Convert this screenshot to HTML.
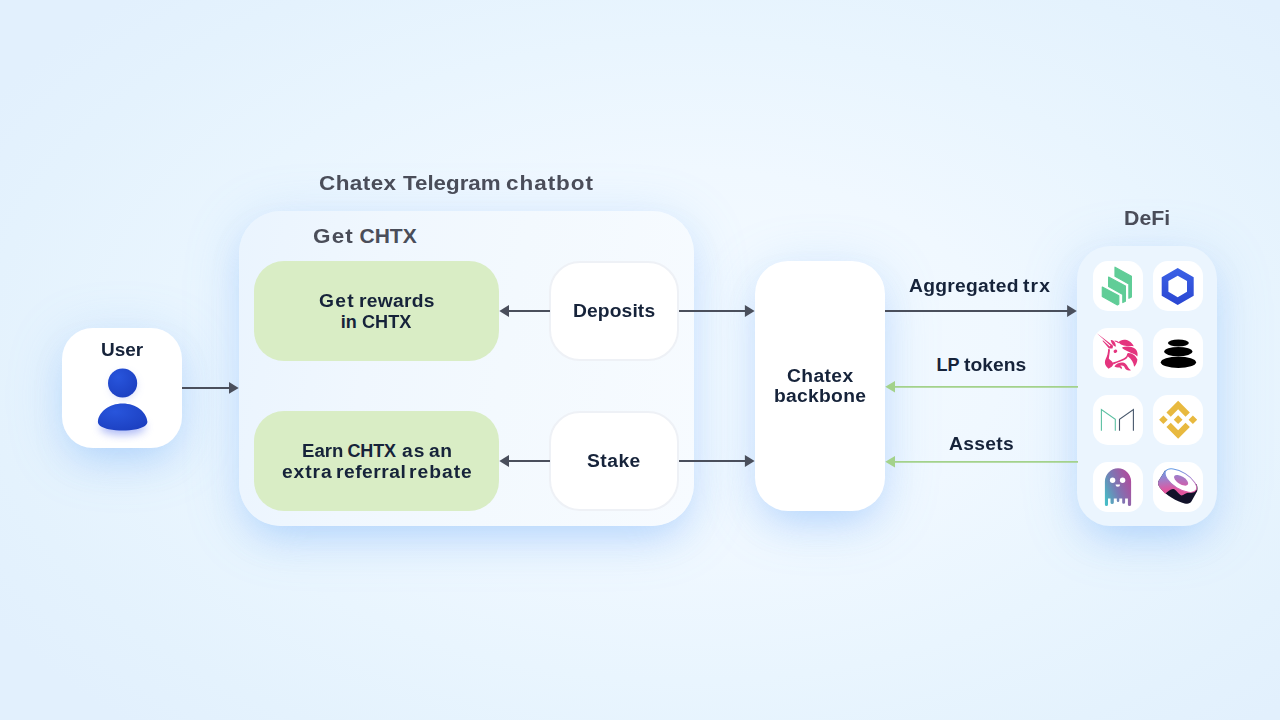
<!DOCTYPE html>
<html><head><meta charset="utf-8"><title>Chatex</title>
<style>
html,body{margin:0;padding:0;}
body{width:1280px;height:720px;overflow:hidden;position:relative;font-family:"Liberation Sans",sans-serif;font-weight:bold;
background:radial-gradient(ellipse 820px 500px at 690px 360px,#f5fbff 0%,#f0f8ff 38%,#e9f5fe 64%,#e4f2fd 86%,#e2f0fd 100%);}
.abs{position:absolute;}
.t{position:absolute;white-space:nowrap;transform-origin:0 0;color:#16233a;font-size:18px;line-height:18px;}
.h{color:#4a4d59;font-size:21px;line-height:21px;}
.card{position:absolute;background:#fff;box-sizing:border-box;}
.sh{box-shadow:0 18px 36px -12px rgba(112,174,250,.34),0 9px 54px rgba(112,174,250,.26);}
</style></head><body>
<!-- user -->
<div class="card sh" style="left:62px;top:328px;width:120px;height:120px;border-radius:31px;"></div>
<svg class="abs" style="left:82px;top:358px" width="80" height="90" viewBox="0 0 80 90">
 <defs><radialGradient id="ug" cx="0.35" cy="0.3" r="0.9"><stop offset="0" stop-color="#2855dc"/><stop offset="1" stop-color="#1a3cbc"/></radialGradient>
 <filter id="ub" x="-50%" y="-50%" width="200%" height="200%"><feGaussianBlur stdDeviation="4"/></filter></defs>
 <ellipse cx="40.7" cy="69" rx="23" ry="8" fill="#7b8ff0" opacity=".6" filter="url(#ub)"/>
 <circle cx="41.5" cy="28" r="12.5" fill="#8a9cf0" opacity=".4" filter="url(#ub)"/>
 <circle cx="40.6" cy="25" r="14.6" fill="url(#ug)"/>
 <path d="M15.9 63.8 C16.6 54 27 45.6 40.6 45.6 C54.4 45.6 64.6 54 65.4 63.8 C65.6 67.6 60 70.2 54.5 71.2 C50 72.1 45 72.5 40.6 72.5 C36.2 72.5 31.2 72.1 26.7 71.2 C21.2 70.2 15.6 67.6 15.9 63.8Z" fill="url(#ug)"/>
</svg>


<!-- container -->
<div class="card sh" style="left:239px;top:211px;width:455px;height:314.5px;border-radius:42px;background:linear-gradient(100deg,#eaf4fe 0%,#f0f7fe 30%,#f3f9fe 57%,#f7fbff 100%);"></div>

<div class="card" style="left:254px;top:261px;width:245px;height:100px;border-radius:30px;background:#d9edc5;"></div>
<div class="card" style="left:254px;top:411px;width:245px;height:100px;border-radius:30px;background:#d9edc5;"></div>

<div class="card" style="left:549px;top:260.6px;width:129.8px;height:100px;border-radius:31px;border:2px solid #eef1f6;"></div>
<div class="card" style="left:549px;top:410.6px;width:129.8px;height:100px;border-radius:31px;border:2px solid #eef1f6;"></div>

<!-- backbone -->
<div class="card sh" style="left:755px;top:261px;width:130px;height:250px;border-radius:33px;"></div>

<!-- defi -->
<div class="card sh" style="left:1077px;top:246px;width:140px;height:280px;border-radius:33px;background:#ebf5fe;"></div>
<svg class="abs" style="left:1077px;top:246px" width="140" height="280" viewBox="1077 246 140 280">
 <defs>
  <linearGradient id="lk" x1="0" y1="0" x2="0" y2="1"><stop offset="0" stop-color="#3c62e6"/><stop offset="1" stop-color="#2a46d2"/></linearGradient>
  <linearGradient id="gh" x1="1" y1="0.25" x2="0" y2="0.8"><stop offset="0" stop-color="#b04a9c"/><stop offset="0.25" stop-color="#9a5ea6"/><stop offset="0.55" stop-color="#7a78b4"/><stop offset="0.8" stop-color="#5f9cbc"/><stop offset="1" stop-color="#48bcc6"/></linearGradient>
  <linearGradient id="su1" x1="0.3" y1="0" x2="0.5" y2="1"><stop offset="0" stop-color="#6a9ae6"/><stop offset="0.35" stop-color="#a57cc6"/><stop offset="0.75" stop-color="#e2559f"/><stop offset="1" stop-color="#e2559f"/></linearGradient>
  <linearGradient id="su2" x1="0" y1="0" x2="1" y2="1"><stop offset="0" stop-color="#8f86d2"/><stop offset="1" stop-color="#d85aa6"/></linearGradient>
  <linearGradient id="su3" x1="0" y1="0" x2="1" y2="0.6"><stop offset="0" stop-color="#4aa8ee"/><stop offset="0.5" stop-color="#9a7fd0"/><stop offset="1" stop-color="#e45aa6"/></linearGradient>
 </defs>
 <!-- tiles -->
 <g fill="#fff">
  <rect x="1093" y="261" width="50" height="50" rx="15"/><rect x="1153" y="261" width="50" height="50" rx="15"/>
  <rect x="1093" y="328" width="50" height="50" rx="15"/><rect x="1153" y="328" width="50" height="50" rx="15"/>
  <rect x="1093" y="395" width="50" height="50" rx="15"/><rect x="1153" y="395" width="50" height="50" rx="15"/>
  <rect x="1093" y="462" width="50" height="50" rx="15"/><rect x="1153" y="462" width="50" height="50" rx="15"/>
 </g>
 <!-- compound -->
 <g transform="translate(1093 261)" fill="#60cd97" stroke="#60cd97" stroke-width="1.2" stroke-linejoin="round">
  <path d="M22 6.2 L38.4 15.3 L38.4 36 L35.9 37.3 L35.9 23 L22 15.2Z"/>
  <path d="M15.6 16 L32.4 25 L32.4 40.2 L29.8 41.5 L29.8 33.4 L15.6 25.5Z"/>
  <path d="M9.3 26 L25.8 34.7 L25.8 43 L24.4 44 L9.3 35.4Z"/>
 </g>
 <!-- chainlink -->
 <g transform="translate(1153 261)">
  <path fill="url(#lk)" fill-rule="evenodd" d="M24.7 6.9 L40.7 16.2 V34.7 L24.7 44 L8.7 34.7 V16.2Z M24.7 14.7 L15.4 20.1 V30.8 L24.7 36.2 L34 30.8 V20.1Z"/>
 </g>
 <!-- uniswap -->
 <g transform="translate(1093 328)" fill="#e4347e">
  <path d="M3.8 5.2 L19.6 17.3 C20.2 18.2 20 19.4 19.4 20.4 L16 20.4 L9.4 12.8 L10.2 12.6 L16.8 18.4 L17.4 17.6Z"/>
  <path d="M17.7 12 C20.4 11.4 23 14.8 22.8 18.8 C20.4 18.2 18.2 15.6 17.7 12Z"/>
  <path d="M21.6 12.6 C23.4 12.6 25 13.4 26.2 14.6 L25.4 15.2 C24.4 14.2 23 13.6 21.8 13.4Z"/>
  <path d="M25.5 14.2 C28.4 10.6 36.6 10.4 40.8 18.2 C36 17.6 30 19.4 25.5 14.2Z"/>
  <path d="M29.2 19.2 C34.4 17.6 41.6 18.8 43.6 22.4 C44.8 25 44.8 26.8 44.3 28.4 C41.4 25.4 34.6 24.2 29.6 20.6Z"/>
  <path d="M34.7 25 C39 24.6 43.2 28.2 44.4 31.6 C44.2 35 42.8 37.2 41.1 38.8 C40.8 34.6 38.2 31 35 28.6 C34.4 27.6 34.4 26.2 34.7 25Z"/>
  <ellipse cx="22.4" cy="23.2" rx="1.9" ry="1.6" transform="rotate(-25 22.4 23.2)"/>
  <path d="M15.2 20.8 C15 24.6 14.4 28 12.8 30.8 C11.4 33.4 11.6 36.4 13.4 38.4 C14.2 39.4 15 40.2 15.6 40.8 C17.4 39.6 20.6 38.2 20.2 35.6 C19.6 33.4 17 32.4 15.8 30.6 C16.2 27.6 16.8 24.2 17 21.4Z"/>
  <path d="M19.8 34.6 C24 33 30.6 31.2 33.2 28.4 C33.8 27.6 34.2 26.6 34.2 25.8 L35.2 26 C35.4 28 34.6 29.8 33 31 C29.8 33.2 24 34.6 20.4 36.4Z"/>
  <path d="M21.4 38.4 C23.6 35 29.8 33.2 32.8 36 C34.8 38 35 40.6 38 42.2 C35.2 43.2 32.8 42 31.8 39.8 C31 37.6 28.8 37 27.2 38 C29.2 38.4 29.6 40.4 28 41.2 C28 39.8 26.4 39.2 24.8 39.6 C23.6 39.4 22.4 39 21.4 38.4Z"/>
 </g>
 <!-- balancer -->
 <g transform="translate(1153 328)" fill="#000">
  <ellipse cx="25.4" cy="15" rx="10.5" ry="3.5"/>
  <ellipse cx="25.3" cy="23.6" rx="14.1" ry="4.7"/>
  <ellipse cx="25.4" cy="34.3" rx="17.6" ry="5.7"/>
 </g>
 <!-- maker -->
 <g transform="translate(1093 395)" fill="none" stroke-width="1.1">
  <path stroke="#5cc0a2" d="M8.4 35.8 V14.6 L22.3 24.3 V35.8"/>
  <path stroke="#48586c" d="M26.5 35.8 V24.3 L40.4 14.6 V35.8"/>
 </g>
 <!-- binance -->
 <g transform="translate(1159.1 400.7) scale(0.3008)" fill="#e8b93f">
  <path d="M38.73 53.2 63.3 28.63l24.59 24.58 14.3-14.3L63.3 0 24.43 38.9zM0 63.31l14.3-14.3 14.3 14.3-14.3 14.3zM38.73 73.41 63.3 97.98l24.59-24.58 14.31 14.29L63.3 126.61 24.43 87.73zM98 63.31l14.3-14.3 14.3 14.3-14.3 14.3zM77.83 63.3 63.3 48.78 48.79 63.28 63.3 77.78z"/>
 </g>
 <!-- aavegotchi -->
 <g transform="translate(1093 462)">
  <path fill="url(#gh)" d="M11.9 19.4 A13.1 13.1 0 0 1 38.1 19.4 V42.4 A1.6 1.6 0 0 1 34.9 42.4 V36.6 H32.1 V40.4 A1.45 1.45 0 0 1 29.2 40.4 V36.6 H26.3 V38.8 A1.25 1.25 0 0 1 23.8 38.8 V36.6 H20.8 V40.4 A1.65 1.65 0 0 1 17.5 40.4 V36.6 H15 V42.4 A1.55 1.55 0 0 1 11.9 42.4Z"/>
  <circle cx="19.6" cy="18.2" r="2.7" fill="#fff"/><circle cx="29.6" cy="18.2" r="2.7" fill="#fff"/>
  <path d="M22.5 22.5 H27.1 A2.3 2.3 0 0 1 22.5 22.5Z" fill="#fff"/>
 </g>
 <!-- sushi -->
 <g transform="translate(1153 462)">
  <path fill="#12122a" d="M12 8.4 L5.2 19.4 C4.6 21.6 5.4 24 8 27 C13 33 24 39.6 31.6 41.4 C35.2 42.2 37 41.4 38.4 39.6 L44 29.6 C44.8 27.6 44.6 25 43.8 22.6Z"/>
  <path fill="url(#su1)" d="M12 8.4 L5.2 19.4 C4.6 21.6 5.4 24 8 27 C9.4 28.8 10.8 30.2 12.2 31.8 C14.6 29.8 17.6 26.6 20.4 27 C23 27.6 25 31.6 28.4 33.6 C30.6 33 33 31.4 35 30.6 L43 24 Z"/>
  <g transform="translate(27.9 18.6) rotate(32)">
   <ellipse cx="0" cy="0" rx="17.9" ry="8.2" fill="#fff" stroke="url(#su3)" stroke-width="0.9"/>
   <ellipse cx="0" cy="-0.4" rx="8" ry="3.9" fill="url(#su2)"/>
  </g>
 </g>
</svg>


<div class="ph"><span class="t h" style="left:319.4px;top:172.2px;letter-spacing:0.41px;transform:scaleX(1.070);">Chatex</span> <span class="t h" style="left:403.2px;top:172.2px;letter-spacing:0.0px;transform:scaleX(1.063);">Telegram</span> <span class="t h" style="left:506.1px;top:172.2px;letter-spacing:0.91px;transform:scaleX(1.070);">chatbot</span></div>
<div class="ph"><span class="t h" style="left:312.9px;top:225.2px;letter-spacing:1.11px;transform:scaleX(1.070);">Get</span> <span class="t h" style="left:359.5px;top:225.2px;letter-spacing:0.0px;">CHTX</span></div>
<div class="ph"><span class="t h" style="left:1124.3px;top:207.0px;letter-spacing:0.0px;transform:scaleX(1.014);">DeFi</span></div>
<div class="ph"><span class="t" style="left:100.7px;top:341.2px;letter-spacing:0.0px;transform:scaleX(1.055);">User</span></div>
<div class="ph"><span class="t" style="left:319.4px;top:291.6px;letter-spacing:1.25px;transform:scaleX(1.070);">Get</span> <span class="t" style="left:358.7px;top:291.6px;letter-spacing:0.24px;transform:scaleX(1.070);">rewards</span></div>
<div class="ph"><span class="t" style="left:340.8px;top:312.5px;letter-spacing:-0.05px;">in</span> <span class="t" style="left:361.8px;top:312.5px;letter-spacing:0.0px;transform:scaleX(1.006);">CHTX</span></div>
<div class="ph"><span class="t" style="left:302.1px;top:441.7px;letter-spacing:0.0px;transform:scaleX(1.033);">Earn</span> <span class="t" style="left:347.4px;top:441.7px;letter-spacing:-0.1px;">CHTX</span> <span class="t" style="left:402.2px;top:441.7px;letter-spacing:0.88px;transform:scaleX(1.070);">as</span> <span class="t" style="left:429.3px;top:441.7px;letter-spacing:0.41px;transform:scaleX(1.070);">an</span></div>
<div class="ph"><span class="t" style="left:281.7px;top:462.6px;letter-spacing:0.84px;transform:scaleX(1.070);">extra</span> <span class="t" style="left:335.6px;top:462.6px;letter-spacing:0.46px;transform:scaleX(1.070);">referral</span> <span class="t" style="left:409.2px;top:462.6px;letter-spacing:0.93px;transform:scaleX(1.070);">rebate</span></div>
<div class="ph"><span class="t" style="left:572.5px;top:302.2px;letter-spacing:0.1px;transform:scaleX(1.070);">Deposits</span></div>
<div class="ph"><span class="t" style="left:587.4px;top:451.7px;letter-spacing:0.45px;transform:scaleX(1.070);">Stake</span></div>
<div class="ph"><span class="t" style="left:787.0px;top:366.7px;letter-spacing:0.35px;transform:scaleX(1.070);">Chatex</span></div>
<div class="ph"><span class="t" style="left:773.8px;top:387.4px;letter-spacing:0.27px;transform:scaleX(1.070);">backbone</span></div>
<div class="ph"><span class="t" style="left:908.9px;top:276.8px;letter-spacing:0.25px;transform:scaleX(1.070);">Aggregated</span> <span class="t" style="left:1022.8px;top:276.8px;letter-spacing:1.04px;transform:scaleX(1.070);">trx</span></div>
<div class="ph"><span class="t" style="left:936.6px;top:355.8px;letter-spacing:-0.15px;">LP</span> <span class="t" style="left:964.1px;top:355.8px;letter-spacing:0.02px;transform:scaleX(1.070);">tokens</span></div>
<div class="ph"><span class="t" style="left:949.4px;top:434.6px;letter-spacing:0.3px;transform:scaleX(1.070);">Assets</span></div>

<!-- arrows -->
<svg class="abs" style="left:0;top:0" width="1280" height="720" viewBox="0 0 1280 720">
 <g stroke="#4a4f5c" stroke-width="2" fill="#4a4f5c">
  <line x1="182" y1="387.9" x2="231" y2="387.9"/><path d="M238.7 387.9l-9.7-5.9v11.8z" stroke="none"/>
  <line x1="550" y1="311" x2="507" y2="311"/><path d="M499.3 311l9.7-5.9v11.8z" stroke="none"/>
  <line x1="550" y1="461" x2="507" y2="461"/><path d="M499.3 461l9.7-5.9v11.8z" stroke="none"/>
  <line x1="679" y1="311" x2="747" y2="311"/><path d="M754.6 311l-9.7-5.9v11.8z" stroke="none"/>
  <line x1="679" y1="461" x2="747" y2="461"/><path d="M754.6 461l-9.7-5.9v11.8z" stroke="none"/>
  <line x1="885" y1="311" x2="1069" y2="311"/><path d="M1076.8 311l-9.7-5.9v11.8z" stroke="none"/>
 </g>
 <g stroke="#a3d28b" stroke-width="1.8" fill="#a3d28b">
  <line x1="1078" y1="386.8" x2="893" y2="386.8"/><path d="M885.3 386.8l9.7-5.7v11.4z" stroke="none"/>
  <line x1="1078" y1="461.8" x2="893" y2="461.8"/><path d="M885.3 461.8l9.7-5.7v11.4z" stroke="none"/>
 </g>
</svg>
</body></html>
